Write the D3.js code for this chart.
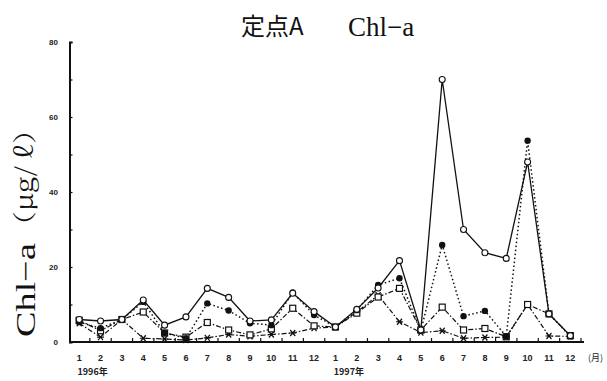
<!DOCTYPE html>
<html><head><meta charset="utf-8">
<script src="https://cdn.jsdelivr.net/npm/d3@7"></script>
<style>body{margin:0;background:#fff}svg{display:block}</style>
</head><body>
<svg id="c" width="607" height="381"></svg>
<script>
const months = ["1","2","3","4","5","6","7","8","9","10","11","12","1","2","3","4","5","6","7","8","9","10","11","12"];
const yearLabels = ["1996年","1997年"];
const yTicks = [0,20,40,60,80];
const seriesCircleOpen   = [6,5.6,6,11.2,4.5,6.7,14.3,11.9,5.6,5.9,13,8.1, 4,8.7,14.4,21.7,3.2,70,30,23.8,22.3,48,7.5,1.7];
const seriesCircleFilled = [5.3,3.7,6,10.7,2.4,1,10.3,8.4,5,4.5,13.2,7.2, 4,8.5,15.2,17,3,25.9,6.9,8.3,1.5,53.7,7.5,1.5];
const seriesSquare       = [5.8,3,6,8,2.4,1.3,5.2,3.2,1.9,3.5,9,4.3, 4,7.7,12,14.3,3.2,9.3,3.2,3.6,1.4,10,7.5,1.7];
const seriesStar         = [5,1.3,6,1,0.8,0.5,1.1,2,1.5,2,2.4,3.7, 4,8,12.5,5.4,2.5,3,1,1.2,1.3,10,1.6,1.5];

const svg = d3.select("#c");
const idx = d3.range(months.length);
const x = d3.scaleBand().domain(idx).range([68.5, 581]).padding(0);
const cx = i => x(i) + x.bandwidth()/2;
const y = d3.scaleLinear().domain([0,80]).range([342,42]);

// title
svg.append("text").attr("x",241).attr("y",35).attr("font-family","'Noto Sans CJK JP'")
  .attr("font-size",24).attr("fill","#111").text("定点A");
svg.append("text").attr("x",348).attr("y",36).attr("font-family","'Liberation Serif'")
  .attr("font-size",27).attr("fill","#111").text("Chl−a");

// y label (stretched along its direction)
function stretched(tx, ty, str, size, len, family, style){
  const g = svg.append("g").attr("transform",`translate(${tx},${ty}) rotate(-90)`);
  const inner = g.append("g");
  const t = inner.append("text").attr("font-family",family).attr("font-size",size)
    .attr("font-style",style||"normal").attr("fill","#111").text(str);
  const w = t.node().getComputedTextLength();
  inner.attr("transform",`scale(${len/w},1)`);
}
stretched(35,337,"Chl−a",28,94,"'Liberation Serif'");
stretched(33,240,"（μg/ ℓ）",24,125,"'Noto Serif CJK JP','Liberation Serif'");

// axes
const yAxis = d3.axisRight(y).tickValues(d3.range(0,81,10)).tickSize(3).tickFormat("");
const gy = svg.append("g").attr("transform","translate(69.5,0)").call(yAxis);
gy.select(".domain").attr("stroke","#111").attr("stroke-width",2);
gy.selectAll(".tick line").attr("stroke","#111").attr("stroke-width",1.2);
svg.append("g").selectAll("text").data(yTicks).join("text")
  .attr("x",58).attr("y",d=>y(d)+3).attr("text-anchor","end")
  .attr("font-family","'Liberation Sans'").attr("font-size",8).attr("font-weight","bold").attr("fill","#222")
  .text(d=>d);

const edges = d3.range(months.length+1).map(i => i < months.length ? x(i) : x(months.length-1)+x.bandwidth());
svg.append("line").attr("x1",69.5).attr("x2",584).attr("y1",342).attr("y2",342)
  .attr("stroke","#111").attr("stroke-width",2);
svg.append("g").selectAll("line").data(edges.slice(1)).join("line")
  .attr("x1",d=>d).attr("x2",d=>d).attr("y1",342).attr("y2",338).attr("stroke","#111").attr("stroke-width",1.2);
svg.append("g").selectAll("text").data(idx).join("text")
  .attr("x",i=>cx(i)).attr("y",361).attr("text-anchor","middle")
  .attr("font-family","'Liberation Sans'").attr("font-size",9).attr("font-weight","bold").attr("fill","#222")
  .text(i=>months[i]);
svg.append("text").attr("x",588).attr("y",361).attr("font-family","'Noto Sans CJK JP'")
  .attr("font-size",9).attr("fill","#222").text("(月)");
svg.append("g").selectAll("text").data(yearLabels).join("text")
  .attr("x",(d,i)=>x(i*12)+9).attr("y",375)
  .attr("font-family","'Noto Sans CJK JP'").attr("font-size",9).attr("font-weight","bold").attr("fill","#222")
  .text(d=>d);

const line = d3.line().x((d,i)=>cx(i)).y(d=>y(d));
function drawLine(data, dash, w){
  svg.append("path").datum(data).attr("d",line).attr("fill","none").attr("stroke","#111")
    .attr("stroke-width",w).attr("stroke-dasharray",dash);
}
drawLine(seriesStar,"5,2,1.5,2",1.2);
drawLine(seriesSquare,"5,2,1.5,2",1.2);
drawLine(seriesCircleFilled,"1.5,2.5",1.5);
drawLine(seriesCircleOpen,null,1.3);

// markers
svg.append("g").selectAll("path").data(seriesStar).join("path")
  .attr("transform",(d,i)=>`translate(${cx(i)},${y(d)})`)
  .attr("d","M-3.5,0H3.5M-2.5,-3L2.5,3M-2.5,3L2.5,-3").attr("stroke","#111").attr("stroke-width",1.2).attr("fill","none");
svg.append("g").selectAll("rect").data(seriesSquare).join("rect")
  .attr("x",(d,i)=>cx(i)-3).attr("y",d=>y(d)-3).attr("width",6).attr("height",6)
  .attr("fill","#fff").attr("stroke","#111").attr("stroke-width",1.2);
svg.append("g").selectAll("circle").data(seriesCircleFilled).join("circle")
  .attr("cx",(d,i)=>cx(i)).attr("cy",d=>y(d)).attr("r",3.2).attr("fill","#111");
svg.append("g").selectAll("circle").data(seriesCircleOpen).join("circle")
  .attr("cx",(d,i)=>cx(i)).attr("cy",d=>y(d)).attr("r",3).attr("fill","#fff").attr("stroke","#111").attr("stroke-width",1.1);
</script>
</body></html>
